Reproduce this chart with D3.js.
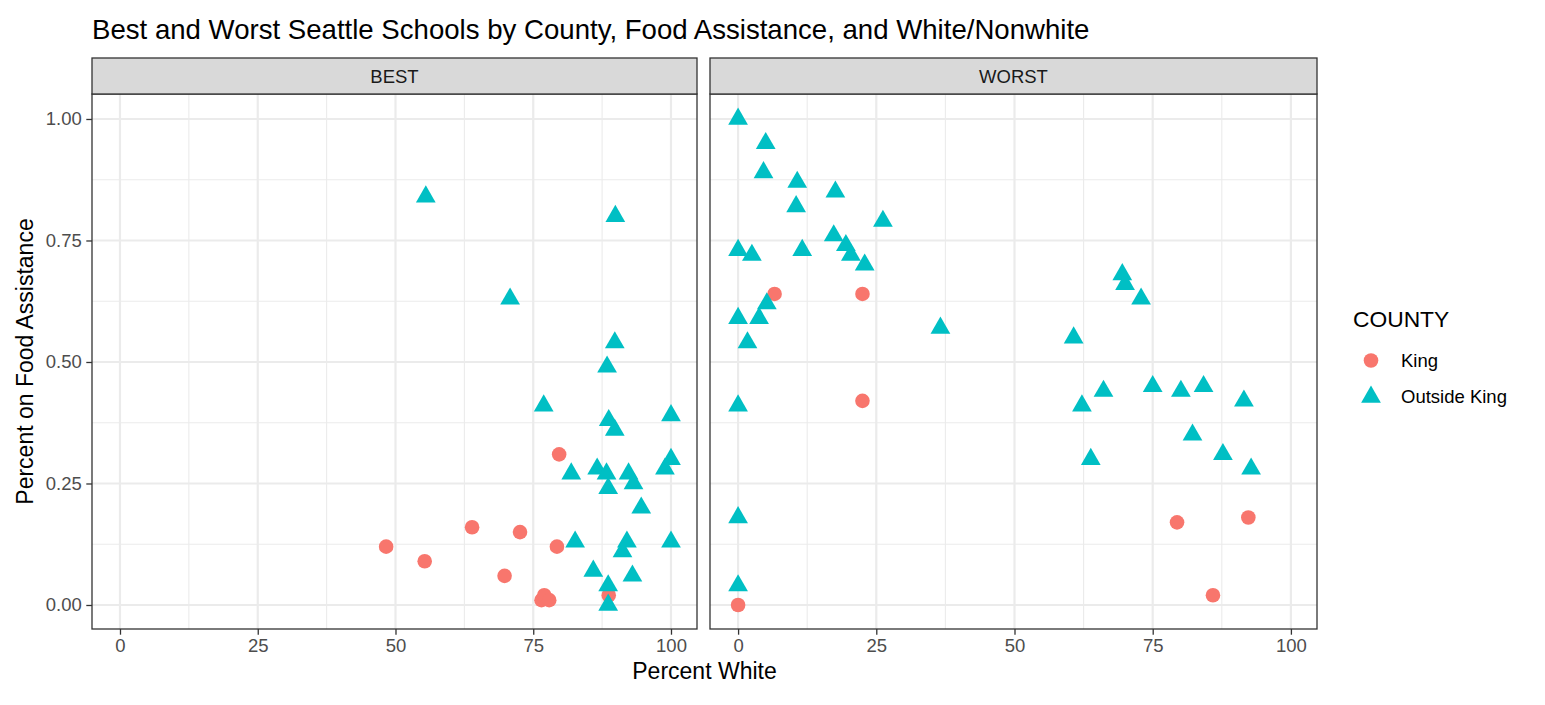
<!DOCTYPE html>
<html>
<head>
<meta charset="utf-8">
<script src="https://cdn.jsdelivr.net/npm/d3@7"></script>
<style>
  html, body { margin: 0; padding: 0; background: #fff; }
  svg { display: block; font-family: "Liberation Sans", Arial, sans-serif; }
</style>
</head>
<body>
<svg id="chart" width="1545" height="705"></svg>
<script>
// ---------- data ----------
const chartTitle = "Best and Worst Seattle Schools by County, Food Assistance, and White/Nonwhite";
const panels = ["BEST", "WORST"];
const categories = ["King", "Outside King"];
const legendTitle = "COUNTY";
const xTitle = "Percent White";
const yTitle = "Percent on Food Assistance";
const xTicks = [0, 25, 50, 75, 100];
const xTickLabels = ["0", "25", "50", "75", "100"];
const xMinor = [12.5, 37.5, 62.5, 87.5];
const yTicks = [0, 0.25, 0.5, 0.75, 1];
const yTickLabels = ["0.00", "0.25", "0.50", "0.75", "1.00"];
const yMinor = [0.125, 0.375, 0.625, 0.875];

// BEST panel
const bestKingX = [48.3, 55.3, 63.9, 72.6, 69.8, 79.7, 79.3, 76.5, 77.0, 77.9, 88.7];
const bestKingY = [0.12, 0.09, 0.16, 0.15, 0.06, 0.31, 0.12, 0.01, 0.02, 0.01, 0.02];
const bestOutX = [55.5, 89.9, 70.8, 89.8, 88.4, 76.9, 88.7, 89.8, 100.0, 86.6, 81.9, 88.3, 92.3,
                  100.0, 98.9, 88.6, 93.2, 94.6, 82.6, 100.0, 92.0, 91.2, 85.9, 93.0, 88.6, 88.6];
const bestOutY = [0.84, 0.80, 0.63, 0.54, 0.49, 0.41, 0.38, 0.36, 0.39, 0.28, 0.27, 0.27, 0.27,
                  0.30, 0.28, 0.24, 0.25, 0.20, 0.13, 0.13, 0.13, 0.11, 0.07, 0.06, 0.04, 0.00];

// WORST panel
const worstKingX = [6.6, 22.5, 22.5, 0.0, 79.4, 92.3, 85.9];
const worstKingY = [0.64, 0.64, 0.42, 0.00, 0.17, 0.18, 0.02];
const worstOutX = [0.0, 5.0, 4.6, 10.7, 17.6, 10.5, 26.2, 17.3, 19.5, 20.4, 22.9, 0.0, 2.5, 11.6,
                   5.2, 0.0, 3.8, 1.7, 36.6, 0.0, 0.0, 0.0,
                   69.5, 70.0, 72.9, 60.7, 66.1, 62.2, 75.0, 80.1, 84.2, 91.5, 82.2, 87.7, 92.8, 63.8];
const worstOutY = [1.00, 0.95, 0.89, 0.87, 0.85, 0.82, 0.79, 0.76, 0.74, 0.72, 0.70, 0.73, 0.72, 0.73,
                   0.62, 0.59, 0.59, 0.54, 0.57, 0.41, 0.18, 0.04,
                   0.68, 0.66, 0.63, 0.55, 0.44, 0.41, 0.45, 0.44, 0.45, 0.42, 0.35, 0.31, 0.28, 0.30];

const colors = ["#F8766D", "#00BFC4"];

// ---------- build ----------
const pts = (xs, ys) => xs.map((x, i) => ({x: x, y: ys[i]}));
const panelData = {
  BEST: [pts(bestKingX, bestKingY), pts(bestOutX, bestOutY)],
  WORST: [pts(worstKingX, worstKingY), pts(worstOutX, worstOutY)]
};

const svg = d3.select("#chart");
const panelBoxes = [{x0: 92, x1: 697}, {x0: 710, x1: 1317}];
const panelTop = 94, panelBottom = 629, stripTop = 58;
const circleR = 7.3, triR = 11.4;
const triSize = 3 * Math.sqrt(3) * Math.pow(triR / 2, 2);

const y = d3.scaleLinear().domain([-0.0494, 1.0514]).range([panelBottom, panelTop]);

// title
svg.append("text").attr("x", 92).attr("y", 38.5)
  .attr("font-size", 27.6).attr("fill", "#000").text(chartTitle);

panels.forEach((p, pi) => {
  const box = panelBoxes[pi];
  const x = d3.scaleLinear().domain([-5.08, 104.72]).range([box.x0, box.x1]);
  const g = svg.append("g");

  // panel background
  g.append("rect").attr("x", box.x0).attr("y", panelTop)
    .attr("width", box.x1 - box.x0).attr("height", panelBottom - panelTop).attr("fill", "#fff");

  // minor grid
  g.selectAll(".xminor").data(xMinor).join("line")
    .attr("x1", d => x(d)).attr("x2", d => x(d)).attr("y1", panelTop).attr("y2", panelBottom)
    .attr("stroke", "#EBEBEB").attr("stroke-width", 1.1);
  g.selectAll(".yminor").data(yMinor).join("line")
    .attr("y1", d => y(d)).attr("y2", d => y(d)).attr("x1", box.x0).attr("x2", box.x1)
    .attr("stroke", "#EBEBEB").attr("stroke-width", 1.1);
  // major grid
  g.selectAll(".xmajor").data(xTicks).join("line")
    .attr("x1", d => x(d)).attr("x2", d => x(d)).attr("y1", panelTop).attr("y2", panelBottom)
    .attr("stroke", "#EBEBEB").attr("stroke-width", 2.2);
  g.selectAll(".ymajor").data(yTicks).join("line")
    .attr("y1", d => y(d)).attr("y2", d => y(d)).attr("x1", box.x0).attr("x2", box.x1)
    .attr("stroke", "#EBEBEB").attr("stroke-width", 2.2);

  // points: King circles, Outside King triangles
  const [king, outside] = panelData[p];
  g.selectAll(".kpt").data(king).join("circle")
    .attr("cx", d => x(d.x)).attr("cy", d => y(d.y)).attr("r", circleR)
    .attr("fill", colors[0]);
  g.selectAll(".opt").data(outside).join("path")
    .attr("d", d3.symbol().type(d3.symbolTriangle).size(triSize))
    .attr("transform", d => `translate(${x(d.x)},${y(d.y)})`)
    .attr("fill", colors[1]);

  // panel border
  g.append("rect").attr("x", box.x0).attr("y", panelTop)
    .attr("width", box.x1 - box.x0).attr("height", panelBottom - panelTop)
    .attr("fill", "none").attr("stroke", "#333333").attr("stroke-width", 1.3);

  // strip
  g.append("rect").attr("x", box.x0).attr("y", stripTop)
    .attr("width", box.x1 - box.x0).attr("height", panelTop - stripTop)
    .attr("fill", "#D9D9D9").attr("stroke", "#333333").attr("stroke-width", 1.3);
  g.append("text").attr("x", (box.x0 + box.x1) / 2).attr("y", 83.3)
    .attr("text-anchor", "middle").attr("font-size", 18.5).attr("fill", "#1A1A1A").text(p);

  // x axis
  const xAxis = d3.axisBottom(x).tickValues(xTicks).tickSize(5.7).tickPadding(4.5)
    .tickFormat((d, i) => xTickLabels[i]);
  const ax = svg.append("g").attr("transform", `translate(0,${panelBottom})`).call(xAxis);
  ax.select(".domain").remove();
  ax.selectAll(".tick line").attr("stroke", "#333333").attr("stroke-width", 1.3);
  ax.selectAll(".tick text").attr("font-size", 18.5).attr("fill", "#4D4D4D")
    .attr("font-family", "Liberation Sans, Arial, sans-serif").attr("dy", "0.71em");

  // y axis (first panel only)
  if (pi === 0) {
    const yAxis = d3.axisLeft(y).tickValues(yTicks).tickSize(5.7).tickPadding(4.5)
      .tickFormat((d, i) => yTickLabels[i]);
    const ay = svg.append("g").attr("transform", `translate(${box.x0},0)`).call(yAxis);
    ay.select(".domain").remove();
    ay.selectAll(".tick line").attr("stroke", "#333333").attr("stroke-width", 1.3);
    ay.selectAll(".tick text").attr("font-size", 18.5).attr("fill", "#4D4D4D")
      .attr("font-family", "Liberation Sans, Arial, sans-serif");
  }
});

// axis titles
svg.append("text").attr("x", (92 + 1317) / 2).attr("y", 679)
  .attr("text-anchor", "middle").attr("font-size", 23).attr("fill", "#000").text(xTitle);
svg.append("text").attr("transform", `translate(33,${(panelTop + panelBottom) / 2}) rotate(-90)`)
  .attr("text-anchor", "middle").attr("font-size", 23).attr("fill", "#000").text(yTitle);

// legend
const lg = svg.append("g");
lg.append("text").attr("x", 1353).attr("y", 327.3).attr("font-size", 22.8).attr("fill", "#000").text(legendTitle);
const legY = d3.scalePoint().domain(categories).range([360.5, 397]);
lg.append("circle").attr("cx", 1371).attr("cy", legY(categories[0])).attr("r", circleR).attr("fill", colors[0]);
lg.append("path").attr("d", d3.symbol().type(d3.symbolTriangle).size(triSize)())
  .attr("transform", `translate(1371,${legY(categories[1])})`).attr("fill", colors[1]);
lg.selectAll(".lt").data(categories).join("text")
  .attr("x", 1401).attr("y", d => legY(d)).attr("dy", "0.35em")
  .attr("font-size", 18.5).attr("fill", "#000").text(d => d);
</script>
</body>
</html>
